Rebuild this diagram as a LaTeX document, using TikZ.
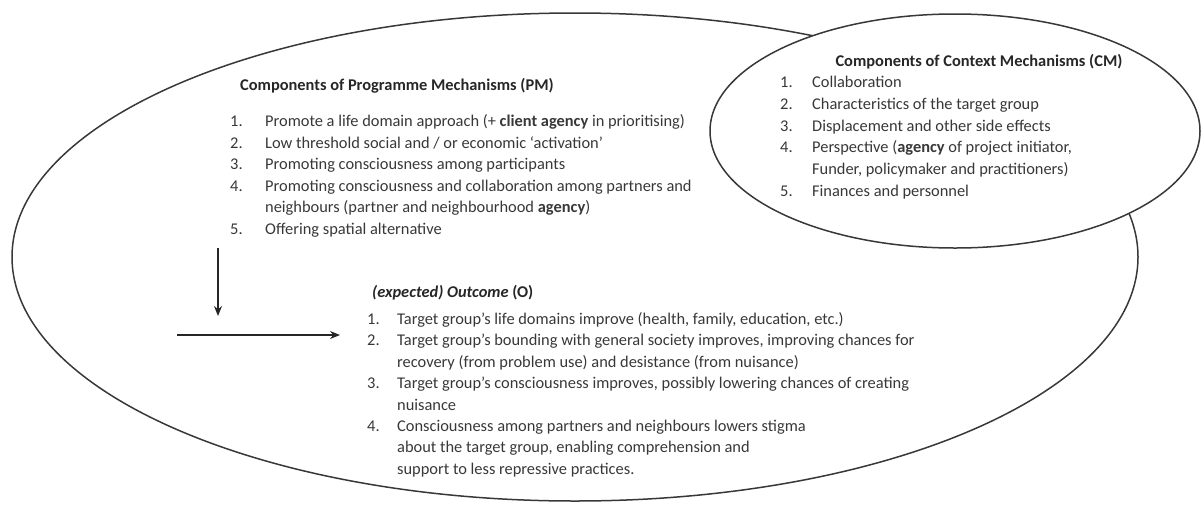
\documentclass[tikz,border=0pt]{standalone}
\usepackage{fontspec}
\setmainfont{Carlito}
\usetikzlibrary{arrows.meta}
\begin{document}
\begin{tikzpicture}[x=1pt,y=-1pt,
  ring/.style={draw=black!78,line width=1.5pt},
  listtxt/.style={inner sep=0pt,anchor=base west,text=black!78,font=\fontsize{16.4}{21.6}\selectfont},
  headtxt/.style={inner sep=0pt,text=black!85,font=\fontsize{16.4}{21.6}\selectfont\bfseries},
  flow/.style={draw=black!85,line width=1.5pt,-{Stealth[length=10pt,width=8pt]}}]
\useasboundingbox (0,0) rectangle (1203,504);
% ellipses
\draw[ring] (575,257) ellipse [x radius=563pt, y radius=244pt];
\draw[ring,fill=white] (955,131) ellipse [x radius=245pt, y radius=117pt];
% Programme mechanisms
\node[headtxt,anchor=base west] (pmh) at (240,90) {Components of Programme Mechanisms (PM)};
\node[listtxt] (pm) at (230,126.5) {\begin{tabular}[t]{@{}p{35pt}@{}l@{}}
1. & Promote a life domain approach (+ \textbf{client agency} in prioritising)\\
2. & Low threshold social and / or economic `activation'\\
3. & Promoting consciousness among participants\\
4. & Promoting consciousness and collaboration among partners and\\
   & neighbours (partner and neighbourhood \textbf{agency})\\
5. & Offering spatial alternative
\end{tabular}};
% Context mechanisms
\node[headtxt,anchor=base] (cmh) at (979,66) {Components of Context Mechanisms (CM)};
\node[listtxt] (cm) at (780,87.5) {\fontsize{16.4}{21.8}\selectfont\begin{tabular}[t]{@{}p{32pt}@{}l@{}}
1. & Collaboration\\
2. & Characteristics of the target group\\
3. & Displacement and other side effects\\
4. & Perspective (\textbf{agency} of project initiator,\\
   & Funder, policymaker and practitioners)\\
5. & Finances and personnel
\end{tabular}};
% Outcome
\node[headtxt,anchor=base west] (oh) at (372,297) {\textit{(expected) Outcome} (O)};
\node[listtxt] (ol) at (367,324.5) {\fontsize{16.4}{21.4}\selectfont\begin{tabular}[t]{@{}p{30pt}@{}l@{}}
1. & Target group's life domains improve (health, family, education, etc.)\\
2. & Target group's bounding with general society improves, improving chances for\\
   & recovery (from problem use) and desistance (from nuisance)\\
3. & Target group's consciousness improves, possibly lowering chances of creating\\
   & nuisance\\
4. & Consciousness among partners and neighbours lowers stigma\\
   & about the target group, enabling comprehension and\\
   & support to less repressive practices.
\end{tabular}};
% arrows
\coordinate (vs) at (218,248);
\coordinate (ve) at (218,316);
\coordinate (hs) at (177,335);
\coordinate (he) at (340,335);
\draw[flow] (vs) -- (ve);
\draw[flow] (hs) -- (he);
\end{tikzpicture}
\end{document}
